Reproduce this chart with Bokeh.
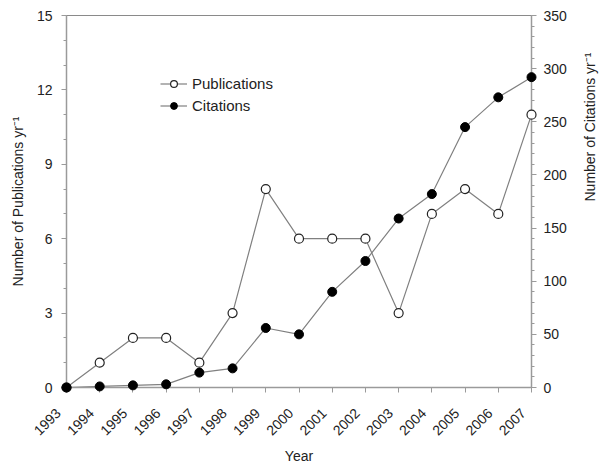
import math
from bokeh.plotting import figure
from bokeh.models import (Range1d, LinearAxis, SingleIntervalTicker, Legend, LegendItem,
                          PrintfTickFormatter)
from bokeh.embed import file_html
from bokeh.resources import INLINE

years = [1993, 1994, 1995, 1996, 1997, 1998, 1999, 2000, 2001, 2002, 2003, 2004, 2005, 2006, 2007]
publications = [0, 1, 2, 2, 1, 3, 8, 6, 6, 6, 3, 7, 8, 7, 11]
citations = [0, 1, 2, 3, 14, 18, 56, 50, 90, 119, 159, 182, 245, 273, 292]

FONT = "Liberation Sans"
TXT = "#222222"
AX = "#9a9a9a"
LINE = "#808080"

p = figure(width=608, height=467, output_backend="svg", toolbar_location=None,
           x_range=Range1d(1993, 2007), y_range=Range1d(0, 15),
           min_border_left=66, min_border_right=73, min_border_top=15, min_border_bottom=80)
p.extra_y_ranges = {"cit": Range1d(0, 350)}
p.grid.visible = False
p.background_fill_color = "white"
p.border_fill_color = "white"
p.outline_line_color = "#8a8a8a"
p.outline_line_width = 1

# series
pl = p.line(years, publications, line_color=LINE, line_width=1.2)
ps = p.scatter(years, publications, size=9, marker="circle", fill_color="white",
               line_color="#222222", line_width=1.2, level="overlay")
cl = p.line(years, citations, line_color=LINE, line_width=1.2, y_range_name="cit")
cs = p.scatter(years, citations, size=9, marker="circle", fill_color="black",
               line_color="black", y_range_name="cit", level="overlay")

# x axis
xa = p.xaxis[0]
xa.ticker = SingleIntervalTicker(interval=1, num_minor_ticks=0)
xa.formatter = PrintfTickFormatter(format="%d   ")
xa.axis_label = "Year"
xa.major_label_orientation = math.pi / 4
xa.major_label_standoff = 10
xa.axis_label_standoff = 1

# left axis
ya = p.yaxis[0]
ya.ticker = SingleIntervalTicker(interval=3, num_minor_ticks=3)
ya.axis_label = "Number of Publications yr\u207b\u00b9"
ya.major_label_standoff = 9
ya.axis_label_standoff = 8

# right axis
ra = LinearAxis(y_range_name="cit", ticker=SingleIntervalTicker(interval=50, num_minor_ticks=5),
                axis_label="Number of Citations yr\u207b\u00b9")
ra.major_label_standoff = 7
ra.axis_label_standoff = 20
ra.axis_label_orientation = math.pi / 2
p.add_layout(ra, "right")

for ax in [xa, ya, ra]:
    ax.axis_line_color = AX
    ax.axis_line_width = 1.5
    ax.major_tick_line_color = AX
    ax.minor_tick_line_color = AX if ax is not xa else None
    ax.major_tick_in = 0
    ax.major_tick_out = 5
    ax.minor_tick_in = 0
    ax.minor_tick_out = 3
    ax.major_label_text_font = FONT
    ax.major_label_text_font_size = "14px"
    ax.major_label_text_color = TXT
    ax.axis_label_text_font = FONT
    ax.axis_label_text_font_size = "14px"
    ax.axis_label_text_font_style = "normal"
    ax.axis_label_text_color = TXT

legend = Legend(items=[LegendItem(label="Publications", renderers=[pl, ps]),
                       LegendItem(label="Citations", renderers=[cl, cs])],
                location=(94, 273), padding=0, margin=0, spacing=5,
                label_height=17, glyph_height=17, glyph_width=27, label_standoff=5,
                background_fill_alpha=0, border_line_color=None,
                label_text_font=FONT, label_text_font_size="15px", label_text_color=TXT)
p.add_layout(legend)

open("out.html", "w").write(file_html(p, INLINE))
